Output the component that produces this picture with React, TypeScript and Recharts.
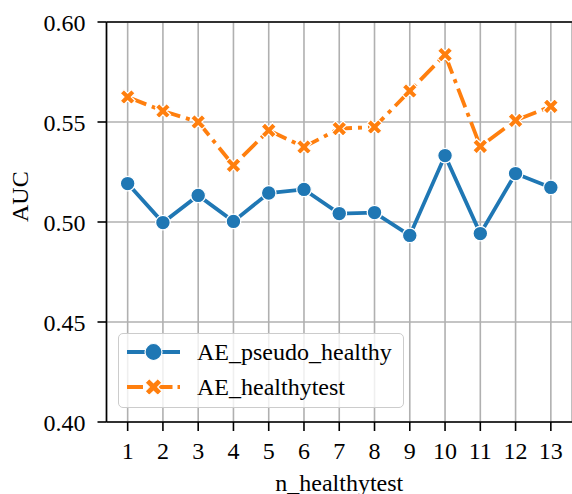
import React from 'react';
import { LineChart, Line, XAxis, YAxis, CartesianGrid, Legend, ReferenceLine } from 'recharts';

const N_VALUES = [1, 2, 3, 4, 5, 6, 7, 8, 9, 10, 11, 12, 13];
const PSEUDO = [0.5192, 0.4997, 0.5133, 0.5003, 0.5145, 0.5163, 0.5042, 0.5047, 0.4933, 0.5332, 0.4942, 0.5242, 0.5173];
const HEALTHY = [0.5625, 0.5555, 0.55, 0.5283, 0.5458, 0.5375, 0.5467, 0.5475, 0.5655, 0.5837, 0.5378, 0.5508, 0.5578];
const Y_TICKS = [0.4, 0.45, 0.5, 0.55, 0.6];

const BLUE = '#1f77b4';
const ORANGE = '#ff7f0e';
const FONT = '"Liberation Serif", "DejaVu Serif", serif';
const DASH = '20 6 4 6';

const data = N_VALUES.map((n, i) => ({ n, pseudo: PSEUDO[i], healthy: HEALTHY[i] }));

// matplotlib's filled "X" marker
const xPath = (cx: number, cy: number, s: number) => {
  const pts = [
    [0.25, 0], [0.5, 0.25], [0.25, 0.5], [0, 0.25], [-0.25, 0.5], [-0.5, 0.25],
    [-0.25, 0], [-0.5, -0.25], [-0.25, -0.5], [0, -0.25], [0.25, -0.5], [0.5, -0.25],
  ];
  return 'M' + pts.map(([x, y]) => `${cx + x * s},${cy + y * s}`).join('L') + 'Z';
};

const CircleDot = (props: any) => {
  const { cx, cy } = props;
  if (cx == null || cy == null) return null;
  return <circle cx={cx} cy={cy} r={7.3} fill={BLUE} stroke="#fff" strokeWidth={1.2} />;
};

const XDot = (props: any) => {
  const { cx, cy } = props;
  if (cx == null || cy == null) return null;
  return <path d={xPath(cx, cy, 15)} fill={ORANGE} stroke="#fff" strokeWidth={1.2} />;
};

const LegendBox = () => (
  <div
    style={{
      width: 284,
      height: 73,
      border: '1.5px solid #cccccc',
      borderRadius: 5,
      background: 'rgba(255,255,255,0.8)',
      fontFamily: FONT,
      fontSize: 24,
      color: '#000',
      position: 'relative',
    }}
  >
    {[
      { label: 'AE_pseudo_healthy', color: BLUE, dash: undefined, y: 18 },
      { label: 'AE_healthytest', color: ORANGE, dash: '16 5 3.5 5', y: 53 },
    ].map((e, i) => (
      <div key={e.label} style={{ position: 'absolute', left: 0, top: e.y - 15, height: 30, width: 284 }}>
        <svg width={70} height={30} style={{ position: 'absolute', left: 0, top: 0 }}>
          <line x1={8} y1={15} x2={61} y2={15} stroke={e.color} strokeWidth={4} strokeDasharray={e.dash} />
          {i === 0 ? (
            <circle cx={34.5} cy={15} r={8.5} fill={BLUE} stroke="#fff" strokeWidth={1.2} />
          ) : (
            <path d={xPath(34.5, 15, 17)} fill={ORANGE} stroke="#fff" strokeWidth={1.2} />
          )}
        </svg>
        <span style={{ position: 'absolute', left: 78, top: 0, lineHeight: '30px', whiteSpace: 'nowrap' }}>{e.label}</span>
      </div>
    ))}
  </div>
);

export default function App() {
  return (
    <div style={{ position: 'absolute', left: 0, top: 0, width: 572, height: 494, background: '#fff' }}>
      <LineChart width={572} height={494} data={data} margin={{ top: 22, right: 0, bottom: 0, left: 0 }}>
        <CartesianGrid stroke="#b0b0b0" strokeWidth={1.6} />
        <XAxis
          dataKey="n"
          type="number"
          domain={[0.4, 13.6]}
          ticks={N_VALUES}
          interval={0}
          height={72}
          tickSize={9}
          tickMargin={11}
          axisLine={{ stroke: '#000', strokeWidth: 1.6 }}
          tickLine={{ stroke: '#000', strokeWidth: 1.6 }}
          tick={{ fill: '#000', fontFamily: FONT, fontSize: 24 }}
          label={{ value: 'n_healthytest', position: 'insideBottom', offset: 3, fill: '#000', fontFamily: FONT, fontSize: 24 }}
        />
        <YAxis
          type="number"
          domain={[0.4, 0.6]}
          ticks={Y_TICKS}
          width={106.5}
          tickSize={9}
          tickMargin={12}
          tickFormatter={(v: number) => v.toFixed(2)}
          axisLine={{ stroke: '#000', strokeWidth: 1.6 }}
          tickLine={{ stroke: '#000', strokeWidth: 1.6 }}
          tick={{ fill: '#000', fontFamily: FONT, fontSize: 24 }}
          label={{ value: 'AUC', angle: -90, position: 'insideLeft', offset: 19, fill: '#000', fontFamily: FONT, fontSize: 24 }}
        />
        <ReferenceLine y={0.6} stroke="#000" strokeWidth={1.6} />
        <Legend
          layout="vertical"
          align="center"
          verticalAlign="middle"
          content={<LegendBox />}
          wrapperStyle={{ left: 118, top: 333, width: 287 }}
        />
        <Line
          dataKey="pseudo"
          name="AE_pseudo_healthy"
          stroke={BLUE}
          strokeWidth={3.8}
          dot={<CircleDot />}
          activeDot={false}
          isAnimationActive={false}
        />
        <Line
          dataKey="healthy"
          name="AE_healthytest"
          stroke={ORANGE}
          strokeWidth={3.8}
          strokeDasharray={DASH}
          dot={<XDot />}
          activeDot={false}
          isAnimationActive={false}
        />
      </LineChart>
    </div>
  );
}
